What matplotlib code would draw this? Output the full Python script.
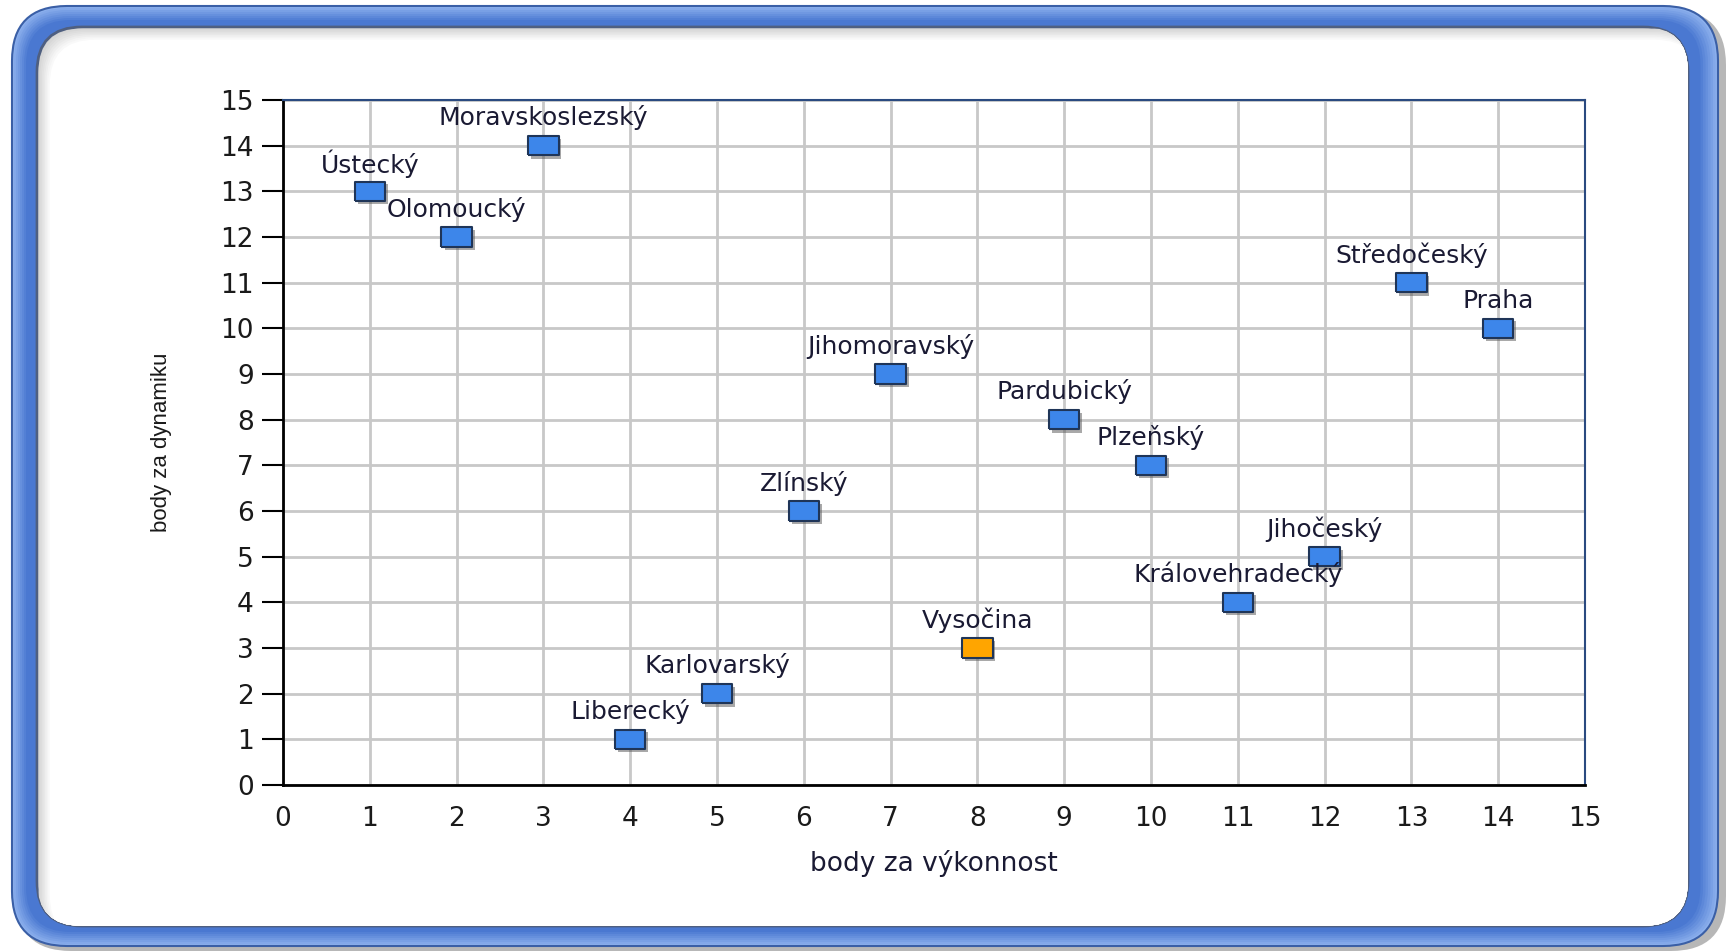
import matplotlib
matplotlib.use("Agg")
import matplotlib.pyplot as plt
from matplotlib.patches import FancyBboxPatch
import matplotlib.transforms as mtransforms
import numpy as np

# data: (region, body za výkonnost, body za dynamiku)
regions = ["Ústecký", "Olomoucký", "Moravskoslezský", "Liberecký", "Karlovarský",
           "Zlínský", "Jihomoravský", "Vysočina", "Pardubický", "Plzeňský",
           "Královehradecký", "Jihočeský", "Středočeský", "Praha"]
vykonnost = [1, 2, 3, 4, 5, 6, 7, 8, 9, 10, 11, 12, 13, 14]
dynamika = [13, 12, 14, 1, 2, 6, 9, 3, 8, 7, 4, 5, 11, 10]
highlight = "Vysočina"
ticks = list(range(0, 16))

W, H = 1728, 951
fig = plt.figure(figsize=(W / 100, H / 100), dpi=100)


def rbox(x0, y0, x1, y1, r, **kw):
    return FancyBboxPatch((x0, y0), x1 - x0, y1 - y0,
                          boxstyle=f"round,pad=0,rounding_size={r}", **kw)


# rounded blue frame (tube look)
bg = fig.add_axes([0, 0, 1, 1])
bg.set_xlim(0, W)
bg.set_ylim(H, 0)
bg.axis("off")
bg.add_patch(rbox(16, 10, 1726, 951, 55, fc="#7d7d7d", ec="none", alpha=0.55))
light = np.array([0.55, 0.69, 0.93])
dark = np.array([0.29, 0.47, 0.82])
for i in range(12):
    c = light + (dark - light) * min(1, i / 7)
    bg.add_patch(rbox(12 + i * 2, 6 + i * 2, 1718 - i * 2.5, 946 - i * 2, 55 - i * 1.5,
                      fc=c, ec="none"))
bg.add_patch(rbox(12, 6, 1718, 946, 55, fc="none", ec="#3a5fa6", lw=1.5))
inner = rbox(37, 27, 1688, 926, 45, fc="#d2d2d2", ec="#4f5f80", lw=2)
bg.add_patch(inner)
for k in range(1, 9):
    g = 0.82 + 0.18 * k / 8
    p = rbox(37 + k * 1.6, 27 + k * 1.6, 1700, 940, 45, fc=(g, g, g), ec="none")
    bg.add_patch(p)
    p.set_clip_path(inner)

ax = fig.add_axes([283 / W, 1 - 785 / H, (1585 - 283) / W, (785 - 100) / H])
ax.set_xlim(0, 15)
ax.set_ylim(0, 15)
ax.set_xticks(ticks)
ax.set_yticks(ticks)
ax.grid(True, color="#c8c8c8", lw=2)
ax.set_axisbelow(True)
for s in ["left", "bottom"]:
    ax.spines[s].set_color("black")
    ax.spines[s].set_linewidth(2)
for s in ["top", "right"]:
    ax.spines[s].set_color("#2a4a80")
    ax.spines[s].set_linewidth(1.5)
ax.tick_params(axis="y", length=15, width=1.5, pad=6, labelsize=19, labelcolor="#1a1a1a")
ax.tick_params(axis="x", length=0, pad=15, labelsize=19, labelcolor="#1a1a1a")

ax.set_xlabel("body za výkonnost", fontsize=19, color="#1a1a33")
ax.xaxis.set_label_coords(0.5, -0.114)
ax.xaxis.label.set_va("center")
ax.set_ylabel("body za dynamiku", fontsize=16, color="#1a1a1a",
              family=["Liberation Sans", "DejaVu Sans"])
ax.yaxis.set_label_coords(-0.093, 0.5)
ax.yaxis.label.set_va("center")

rect = [(-1, -0.63), (1, -0.63), (1, 0.63), (-1, 0.63), (-1, -0.63)]
shadow = mtransforms.offset_copy(ax.transData, fig=fig, x=3, y=-3, units="dots")
colors = ["#ffa500" if r == highlight else "#3d86ea" for r in regions]
ax.scatter(vykonnost, dynamika, marker=rect, s=22 ** 2, c="#555555", alpha=0.5,
           transform=shadow, zorder=3, linewidths=0)
ax.scatter(vykonnost, dynamika, marker=rect, s=22 ** 2, c=colors, edgecolors="#1f3558",
           linewidths=1.5, zorder=4)

for r, x, y in zip(regions, vykonnost, dynamika):
    ax.annotate(r, (x, y), xytext=(0, 20), textcoords="offset points", ha="center",
                va="center", fontsize=18, color="#1a1a33", zorder=5)

fig.savefig("out.png", dpi=100)
